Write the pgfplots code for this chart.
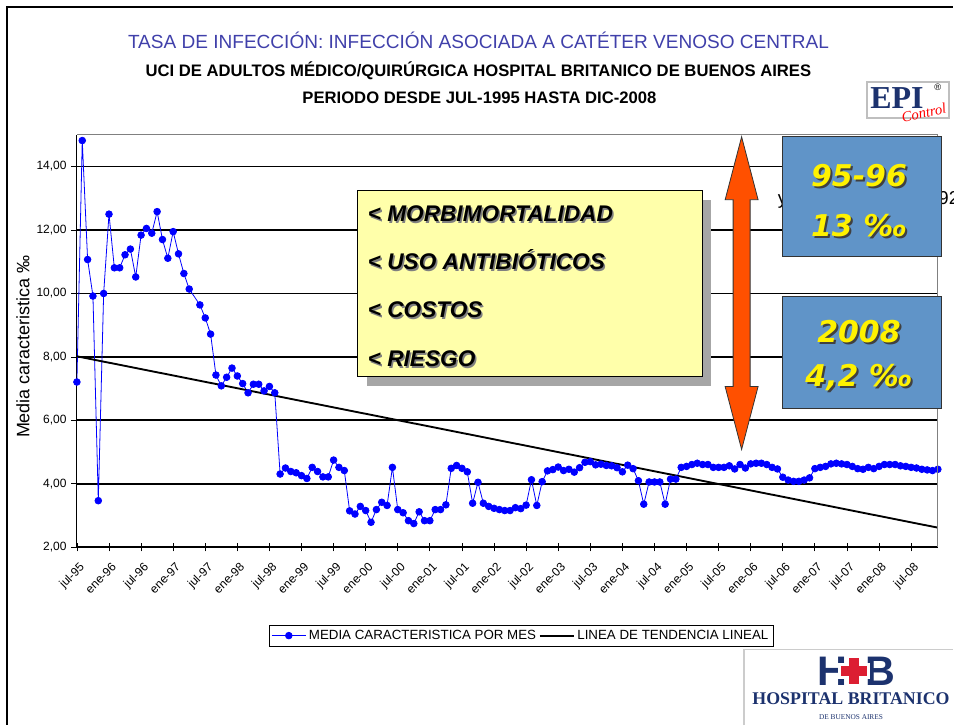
\documentclass[border=0pt]{standalone}
\usepackage{pgfplots}
\pgfplotsset{compat=1.18}
\usepackage{fontspec}
\setmainfont{Liberation Sans}
\newfontfamily\dejavu{DejaVu Sans}
\newfontfamily\lserif{Liberation Serif}

\definecolor{titblue}{RGB}{64,64,170}
\definecolor{boxyellow}{RGB}{255,255,170}
\definecolor{arroworange}{RGB}{255,80,0}
\definecolor{boxblue}{RGB}{96,148,200}
\definecolor{navy}{RGB}{28,50,110}
\definecolor{hbred}{RGB}{220,30,50}

\begin{document}
\begin{tikzpicture}
\begin{scope}[x=0.75pt,y=0.75pt]
\path[use as bounding box] (0,0) rectangle (954,726);
% chart frame
\draw[line width=0.8pt] (954,719) -- (7,719) -- (7,0);
% trend equation, mostly hidden behind the blue box
\node[anchor=west, font=\fontsize{14}{15}\selectfont] at (774,526) {y = -0,0336x + 8,0592};
\end{scope}

\begin{axis}[
    at={(57.75pt,133.5pt)}, anchor=south west,
    scale only axis,
    width=646.5pt, height=309.75pt,
    xmin=0, xmax=161, ymin=2, ymax=15,
    axis x line*=bottom, axis y line*=left,
    axis line style={black, line width=0.8pt},
    xtick={0,6,...,156},
    xticklabels={jul-95,ene-96,jul-96,ene-97,jul-97,ene-98,jul-98,ene-99,jul-99,ene-00,jul-00,ene-01,jul-01,ene-02,jul-02,ene-03,jul-03,ene-04,jul-04,ene-05,jul-05,ene-06,jul-06,ene-07,jul-07,ene-08,jul-08},
    x tick label style={rotate=45, anchor=north east, inner sep=1pt, xshift=-4pt, yshift=-6pt},
    ytick={2,4,...,14},
    yticklabels={{2,00},{4,00},{6,00},{8,00},{10,00},{12,00},{14,00}},
    tick label style={font=\fontsize{9}{10}\selectfont},
    /pgf/number format/assume math mode=true,
    xtick style={black, line width=0.6pt},
    ytick style={black, line width=0.6pt},
    x tick style={/pgfplots/major tick length=6pt},
    xtick align=center, ytick align=outside,
    ymajorgrids,
    major grid style={black, line width=1.4pt},
    legend columns=2,
    legend style={at={(0.516,-0.214)}, anchor=center, draw=black, line width=0.6pt,
        font=\fontsize{10}{11}\selectfont, inner sep=1.5pt,
        /tikz/every even column/.append style={column sep=0pt}},
    legend cell align=left,
    legend image code/.code={\draw[mark repeat=2,mark phase=2,#1] plot coordinates {(0cm,0cm) (0.45cm,0cm) (0.9cm,0cm)};},
]
\addplot[blue, line width=0.6pt, mark=*, mark size=2.5pt, mark options={fill=blue, draw=blue}] coordinates {
(0,7.21) (1,14.82) (2,11.07) (3,9.92) (4,3.47) (5,10.00) (6,12.50) (7,10.81) (8,10.81) (9,11.22)
(10,11.40) (11,10.52) (12,11.84) (13,12.05) (14,11.90) (15,12.58) (16,11.70) (17,11.11) (18,11.95) (19,11.25)
(20,10.63) (21,10.14) (23,9.64) (24,9.23) (25,8.72) (26,7.43) (27,7.09) (28,7.36) (29,7.65)
(30,7.40) (31,7.16) (32,6.87) (33,7.14) (34,7.14) (35,6.93) (36,7.07) (37,6.87) (38,4.31) (39,4.50)
(40,4.39) (41,4.35) (42,4.26) (43,4.17) (44,4.52) (45,4.39) (46,4.22) (47,4.22) (48,4.75) (49,4.52)
(50,4.42) (51,3.15) (52,3.05) (53,3.29) (54,3.16) (55,2.79) (56,3.19) (57,3.42) (58,3.32) (59,4.52)
(60,3.19) (61,3.09) (62,2.84) (63,2.75) (64,3.12) (65,2.84) (66,2.84) (67,3.19) (68,3.19) (69,3.34)
(70,4.49) (71,4.58) (72,4.49) (73,4.38) (74,3.39) (75,4.05) (76,3.39) (77,3.29) (78,3.23) (79,3.19)
(80,3.16) (81,3.16) (82,3.25) (83,3.22) (84,3.33) (85,4.13) (86,3.32) (87,4.07) (88,4.41) (89,4.45)
(90,4.53) (91,4.42) (92,4.46) (93,4.37) (94,4.51) (95,4.68) (96,4.70) (97,4.60) (98,4.62) (99,4.58)
(100,4.57) (101,4.51) (102,4.38) (103,4.59) (104,4.48) (105,4.10) (106,3.36) (107,4.06) (108,4.06) (109,4.06)
(110,3.36) (111,4.15) (112,4.15) (113,4.52) (114,4.55) (115,4.61) (116,4.65) (117,4.61) (118,4.61) (119,4.52)
(120,4.52) (121,4.52) (122,4.57) (123,4.47) (124,4.61) (125,4.50) (126,4.63) (127,4.65) (128,4.65) (129,4.61)
(130,4.52) (131,4.47) (132,4.21) (133,4.12) (134,4.08) (135,4.08) (136,4.12) (137,4.19) (138,4.48) (139,4.52)
(140,4.55) (141,4.63) (142,4.65) (143,4.63) (144,4.61) (145,4.55) (146,4.48) (147,4.46) (148,4.52) (149,4.48)
(150,4.55) (151,4.61) (152,4.61) (153,4.61) (154,4.57) (155,4.55) (156,4.52) (157,4.50) (158,4.46) (159,4.44)
(160,4.42) (161,4.46)
};
\addlegendentry{MEDIA CARACTERISTICA POR MES}
\addplot[black, line width=1.4pt] coordinates {(0,8.02) (161,2.62)};
\addlegendentry{LINEA DE TENDENCIA LINEAL}
\end{axis}

\begin{scope}[x=0.75pt,y=0.75pt]
% thin top and right border of the plot area
\draw[gray, line width=0.6pt] (77,591) -- (939,591) -- (939,178);
% y label
\node[rotate=90, font=\fontsize{13.5}{15}\selectfont] at (23,379) {Media caracteristica ‰};

% titles
\node[text=titblue, font=\fontsize{14.3}{16}\selectfont] at (479,686) {TASA DE INFECCIÓN: INFECCIÓN ASOCIADA A CATÉTER VENOSO CENTRAL};
\node[font=\bfseries\fontsize{12.5}{14}\selectfont] at (479,655) {UCI DE ADULTOS MÉDICO/QUIRÚRGICA HOSPITAL BRITANICO DE BUENOS AIRES};
\node[font=\bfseries\fontsize{12.5}{14}\selectfont] at (480,628) {PERIODO DESDE JUL-1995 HASTA DIC-2008};

% yellow box
\fill[gray!70] (367,526) rectangle (712,340);
\filldraw[fill=boxyellow, draw=black, line width=0.8pt] (358,535) rectangle (703,349);
\foreach \yy/\txt in {504/{< MORBIMORTALIDAD}, 456/{< USO ANTIBIÓTICOS}, 408/{< COSTOS}, 359/{< RIESGO}} {
  \node[anchor=base west, inner sep=0pt, text=gray, font=\bfseries\itshape\fontsize{17}{18}\selectfont] at (369.5,\yy-1.5) {\txt};
  \node[anchor=base west, inner sep=0pt, font=\bfseries\itshape\fontsize{17}{18}\selectfont] at (368,\yy) {\txt};
}

% orange double arrow
\filldraw[fill=arroworange, draw=black!80, line width=0.6pt]
  (742.5,589) -- (759,526) -- (751,526) -- (751,339) -- (759,339) -- (742.5,276)
  -- (726,339) -- (734,339) -- (734,526) -- (726,526) -- cycle;

% blue boxes
\filldraw[fill=boxblue, draw=black!80, line width=0.8pt] (783,589) rectangle (943,469);
\filldraw[fill=boxblue, draw=black!80, line width=0.8pt] (783,429) rectangle (943,317);
\foreach \yy/\txt in {550/{95-96}, 500/{13 ‰}, 394/{2008}, 348/{4,2 ‰}} {
  \node[text=black!75, font=\dejavu\bfseries\itshape\fontsize{22.5}{24}\selectfont] at (862,\yy-2) {\txt};
  \node[text=yellow, font=\dejavu\bfseries\itshape\fontsize{22.5}{24}\selectfont] at (860,\yy) {\txt};
}

% EPI Control logo
\filldraw[fill=white, draw=gray!50, line width=1.5pt] (868,644) rectangle (950,608);
\node[text=navy, font=\lserif\bfseries\fontsize{24}{24}\selectfont] at (898,628) {EPI};
\node[text=red, rotate=12, font=\lserif\itshape\fontsize{11}{11}\selectfont] at (925,613) {Control};
\node[font=\fontsize{7}{7}\selectfont] at (939,639) {®};

% Hospital Britanico logo
\fill[white] (745,76) rectangle (954,0);
\draw[gray!40, line width=1pt] (745,0) -- (745,76) -- (954,76);
\node[text=navy, font=\bfseries\fontsize{31}{31}\selectfont] at (833,54) {H};
\node[text=navy, font=\bfseries\fontsize{31}{31}\selectfont] at (881,54) {B};
\fill[white] (847,38) rectangle (863,70);
\fill[white] (839,46) rectangle (871,62);
\fill[hbred] (850,41) rectangle (860,67);
\fill[hbred] (842,49) rectangle (868,59);
\node[text=navy, font=\lserif\bfseries\fontsize{13.4}{14}\selectfont] at (852,26) {HOSPITAL BRITANICO};
\node[text=navy, font=\lserif\fontsize{5.5}{6}\selectfont] at (852,8) {DE BUENOS AIRES};
\end{scope}
\end{tikzpicture}
\end{document}
